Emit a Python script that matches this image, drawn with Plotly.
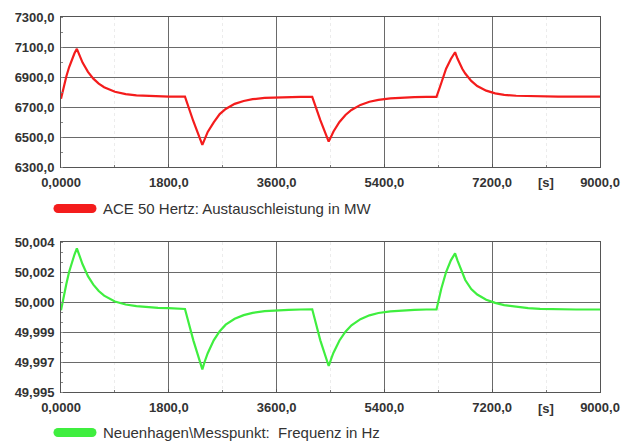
import plotly.graph_objects as go

# ---- data ----
t = [0, 45, 90, 135, 180, 225, 265, 310, 360, 450,
     540, 630, 720, 900, 1080, 1260, 1440, 1620, 1800, 2070,
     2210, 2360, 2400, 2450, 2550, 2650, 2750, 2900, 3050, 3200,
     3400, 3600, 3800, 4000, 4195, 4330, 4470, 4520, 4550, 4650,
     4750, 4850, 5000, 5150, 5300, 5500, 5700, 5900, 6100, 6270,
     6350, 6430, 6510, 6580, 6620, 6650, 6700, 6750, 6850, 6950,
     7100, 7250, 7400, 7600, 7800, 8000, 8300, 8600, 9000]

power_mw = [6755, 6835, 6905, 6965, 7015, 7058, 7088, 7041, 6996, 6934,
            6889, 6856, 6832, 6802, 6786, 6778, 6774, 6771, 6769, 6769,
            6605, 6447, 6489, 6534, 6598, 6653, 6687, 6721, 6740, 6752,
            6761, 6765, 6767, 6768, 6768, 6612, 6469, 6514, 6537, 6600,
            6647, 6680, 6714, 6735, 6747, 6757, 6763, 6766, 6767, 6768,
            6860, 6955, 7020, 7065, 7023, 6995, 6955, 6923, 6874, 6840,
            6809, 6791, 6781, 6775, 6772, 6770, 6769, 6769, 6769]

freq_hz = [49.99990, 50.00080, 50.00150, 50.00220, 50.00280, 50.00325, 50.00362, 50.00310, 50.00266, 50.00195,
           50.00144, 50.00106, 50.00078, 50.00043, 50.00025, 50.00015, 50.00009, 50.00005, 50.00003, 49.99998,
           49.99810, 49.99636, 49.99683, 49.99733, 49.99810, 49.99865, 49.99904, 49.99939, 49.99961, 49.99975,
           49.99985, 49.99990, 49.99993, 49.99995, 49.99996, 49.99810, 49.99656, 49.99708, 49.99736, 49.99809,
           49.99862, 49.99900, 49.99937, 49.99960, 49.99974, 49.99984, 49.99990, 49.99993, 49.99995, 49.99995,
           50.00120, 50.00220, 50.00290, 50.00332, 50.00290, 50.00262, 50.00210, 50.00172, 50.00118, 50.00085,
           50.00054, 50.00035, 50.00021, 50.00010, 50.00003, 49.99999, 49.99996, 49.99995, 49.99995]

x_ticks = [0, 1800, 3600, 5400, 7200, 9000]
x_ticktext = ["0,0000", "1800,0", "3600,0", "5400,0", "7200,0", "9000,0"]

p_ticks = [6300, 6500, 6700, 6900, 7100, 7300]
p_ticktext = ["6300,0", "6500,0", "6700,0", "6900,0", "7100,0", "7300,0"]

f_ticks = [49.995, 49.9968, 49.9986, 50.0004, 50.0022, 50.004]
f_ticktext = ["49,995", "49,997", "49,999", "50,000", "50,002", "50,004"]

label_power = "ACE 50 Hertz: Austauschleistung in MW"
label_freq = "Neuenhagen\\Messpunkt:\u00a0 Frequenz in Hz"
unit_label = "[s]"

RED = "#f41c1c"
GREEN = "#3fee3f"
W, H = 633, 445

fig = go.Figure()
fig.add_trace(go.Scatter(x=t, y=power_mw, mode="lines", line=dict(color=RED, width=2.2),
                         xaxis="x", yaxis="y", showlegend=False))
fig.add_trace(go.Scatter(x=t, y=freq_hz, mode="lines", line=dict(color=GREEN, width=2.2),
                         xaxis="x2", yaxis="y2", showlegend=False))

tickfont = dict(family="Liberation Sans, Arial", size=13, color="#333333", weight="bold")
xdom = [61 / W, 600 / W]

def xaxis_common(anchor):
    return dict(domain=xdom, range=[0, 9000], anchor=anchor, automargin=False,
                tickvals=x_ticks, ticktext=x_ticktext, tickfont=tickfont,
                showgrid=True, gridcolor="#6a6a6a", gridwidth=1,
                showline=True, linecolor="#555555", linewidth=1, mirror=True,
                ticks="inside", ticklen=3, tickcolor="#555555",
                ticklabelstandoff=3, zeroline=False,
                minor=dict(dtick=900, tick0=0, ticks="inside", ticklen=2, tickcolor="#777777",
                           showgrid=True, gridcolor="#ececec", gridwidth=1, griddash="dot"))

def yaxis_common(anchor, dom, rng, tv, tt, minor_dtick):
    return dict(domain=dom, range=rng, anchor=anchor, automargin=False,
                tickvals=tv, ticktext=tt, tickfont=tickfont,
                showgrid=True, gridcolor="#6a6a6a", gridwidth=1,
                showline=True, linecolor="#555555", linewidth=1, mirror=True,
                ticks="", ticklabelstandoff=3, zeroline=False,
                minor=dict(dtick=minor_dtick, tick0=rng[0], ticks="inside", ticklen=2,
                           tickcolor="#888888", showgrid=False))

fig.update_layout(
    width=W, height=H, autosize=False,
    margin=dict(l=0, r=0, t=0, b=0),
    paper_bgcolor="white", plot_bgcolor="white",
    xaxis=xaxis_common("y"),
    yaxis=yaxis_common("x", [1 - 167 / H, 1 - 17 / H], [6300, 7300], p_ticks, p_ticktext, 100),
    xaxis2=xaxis_common("y2"),
    yaxis2=yaxis_common("x2", [1 - 392 / H, 1 - 242 / H], [49.995, 50.004], f_ticks, f_ticktext, 0.0006),
)

# "[s]" unit labels
for xr, yy in (("x", 182), ("x2", 408)):
    fig.add_annotation(x=8100, xref=xr, y=1 - yy / H, yref="paper", text=unit_label,
                       showarrow=False, font=tickfont, xanchor="center", yanchor="middle")

# legend swatches (rounded bars) + texts
for color, text, yy in ((RED, label_power, 208.5), (GREEN, label_freq, 432.5)):
    yc = 1 - yy / H
    fig.add_shape(type="line", xref="paper", yref="paper",
                  x0=58 / W, x1=92 / W, y0=yc, y1=yc,
                  line=dict(color=color, width=9))
    for cx in (58, 92):
        fig.add_shape(type="circle", xref="paper", yref="paper",
                      xsizemode="pixel", ysizemode="pixel",
                      xanchor=cx / W, yanchor=yc,
                      x0=-4.5, x1=4.5, y0=-4.5, y1=4.5,
                      fillcolor=color, line=dict(width=0))
    fig.add_annotation(x=101 / W, xref="paper", y=yc, yref="paper", text=text,
                       showarrow=False, xanchor="left", yanchor="middle",
                       font=dict(family="Liberation Sans, Arial", size=15, color="#333333"))

fig.write_html("out.html")
